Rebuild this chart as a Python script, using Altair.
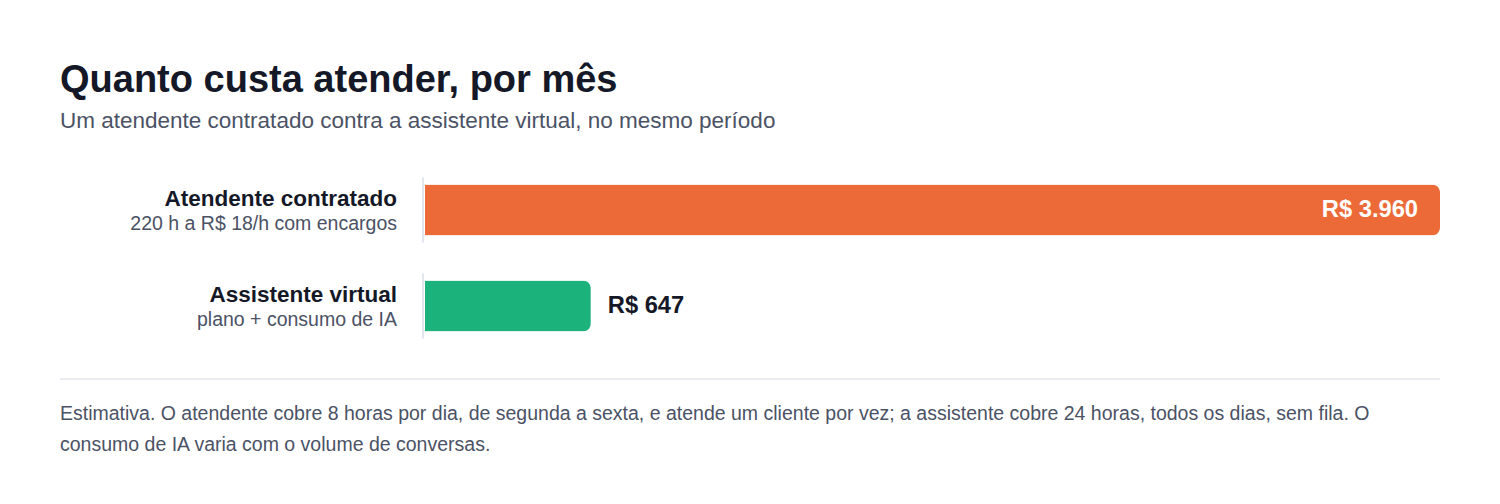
import altair as alt
import pandas as pd

# ---- data ----
categories = ["Atendente contratado", "Assistente virtual"]
details = ["220 h a R$ 18/h com encargos", "plano + consumo de IA"]
values = [3960, 647]
colors = ["#EB6A37", "#1CB27B"]

title_text = "Quanto custa atender, por mês"
subtitle_text = "Um atendente contratado contra a assistente virtual, no mesmo período"
footnote_lines = [
    "Estimativa. O atendente cobre 8 horas por dia, de segunda a sexta, e atende um cliente por vez; a assistente cobre 24 horas, todos os dias, sem fila. O",
    "consumo de IA varia com o volume de conversas.",
]

FONT = "Liberation Sans"
DARK = "#141827"
GREY = "#4B5265"
LINE = "#E3E6EE"

df = pd.DataFrame({
    "cat": categories,
    "detail": details,
    "value": values,
    "color": colors,
    "label": ["R$ " + f"{v:,}".replace(",", ".") for v in values],
})

vmax = max(values)
x = alt.X("value:Q", scale=alt.Scale(domain=[0, vmax], nice=False), axis=None)
y = alt.Y("cat:N", sort=categories, scale=alt.Scale(paddingInner=0, paddingOuter=0), axis=None)

base = alt.Chart(df)

divider = base.mark_bar(height=65, color=LINE).encode(
    x=alt.value(-3), x2=alt.value(-1), y=y
)

bars = base.mark_bar(height=51, cornerRadiusEnd=8).encode(
    x=x, y=y, color=alt.Color("color:N", scale=None)
)

inside = base.transform_filter(alt.datum.value > vmax * 0.5).mark_text(
    align="right", baseline="middle", dx=-22, font=FONT, fontSize=23.7, fontWeight="bold", color="white"
).encode(x=x, y=y, text="label:N")

outside = base.transform_filter(alt.datum.value <= vmax * 0.5).mark_text(
    align="left", baseline="middle", dx=17, font=FONT, fontSize=23.7, fontWeight="bold", color=DARK
).encode(x=x, y=y, text="label:N")

cat_label = base.mark_text(
    align="right", baseline="middle", dy=-11, font=FONT, fontSize=22.5, fontWeight="bold", color=DARK
).encode(x=alt.value(-28), y=y, text="cat:N")

detail_label = base.mark_text(
    align="right", baseline="middle", dy=14, font=FONT, fontSize=19.5, color=GREY
).encode(x=alt.value(-28), y=y, text="detail:N")

separator = alt.Chart(pd.DataFrame({"a": [0]})).mark_rule(color=LINE, strokeWidth=1.5).encode(
    x=alt.value(-365), x2=alt.value(1015), y=alt.value(217)
)

footnote = alt.Chart(pd.DataFrame({"a": [0]})).mark_text(
    align="left", baseline="alphabetic", font=FONT, fontSize=19.5, lineHeight=31, color=GREY
).encode(x=alt.value(-365), y=alt.value(258), text=alt.value(footnote_lines))

chart = alt.layer(divider, bars, inside, outside, cat_label, detail_label, separator, footnote).properties(
    width=1015,
    height=192,
    background="white",
    padding={"left": 417, "top": 154, "right": 52, "bottom": 142},
    autosize=alt.AutoSizeParams(type="none"),
    title=alt.TitleParams(
        text=title_text,
        subtitle=subtitle_text,
        anchor="start",
        frame="group",
        dx=-365,
        offset=30,
        font=FONT,
        fontSize=38,
        fontWeight="bold",
        color=DARK,
        subtitleFont=FONT,
        subtitleFontSize=22.5,
        subtitleColor=GREY,
        subtitlePadding=10,
    ),
).configure_view(strokeWidth=0, stroke=None)

chart.save("out.html", embed_options={"renderer": "svg", "actions": False})
